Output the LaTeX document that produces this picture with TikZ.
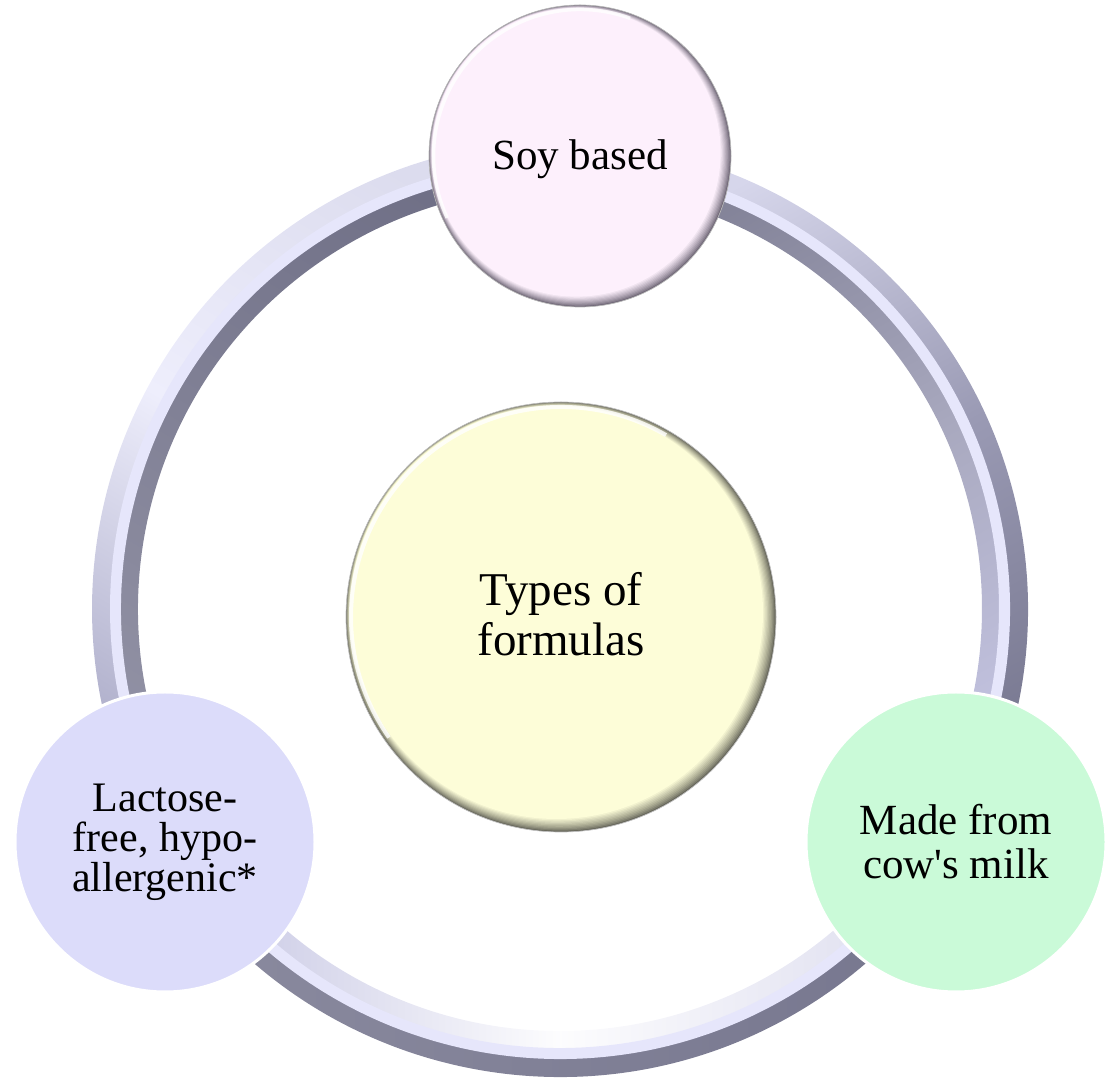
\documentclass[tikz,border=0pt]{standalone}
\usepackage{fontspec}
\setmainfont{Liberation Serif}
\usetikzlibrary{calc}
\definecolor{soyfill}{HTML}{FDF0FC}
\definecolor{soyedge}{HTML}{6E6676}
\definecolor{typfill}{HTML}{FDFDD8}
\definecolor{typedge}{HTML}{66665A}
\definecolor{lactfill}{HTML}{DCDCFA}
\definecolor{cowfill}{HTML}{CAFAD8}
\definecolor{ringmid}{HTML}{E6E6FB}
\definecolor{ringdark}{HTML}{76768E}
\definecolor{ringgray}{HTML}{9A9AB4}
\definecolor{ringlav}{HTML}{C4C4E2}
\definecolor{ringpale}{HTML}{EEEEFC}
\newcommand\ringband[4]{($(O)+(#1:#3)$) arc[start angle=#1, end angle=#2, radius=#3] -- ($(O)+(#2:#4)$) arc[start angle=#2, end angle=#1, radius=#4] -- cycle}
\begin{document}
\begin{tikzpicture}[x=1pt,y=1pt,
  lbl/.style={align=center, text=black, inner sep=0pt},
  flatdisc/.style={circle, draw=white, line width=3pt, minimum size=300pt, inner sep=0pt, align=center},
  outerfont/.style={font=\fontsize{42}{40}\selectfont},
]
\useasboundingbox (0,0) rectangle (1119,1084);
\coordinate (O) at (560,475);
% ---- ring: segment A (top -> left)
\shade[top color=ringlav!60!white, bottom color=ringlav!70!ringdark, middle color=ringpale, shading angle=-31] \ringband{87.5}{210.5}{468}{447};
\shade[top color=ringdark!95!black, bottom color=ringdark!80!white, shading angle=-31] \ringband{87.5}{210.5}{442}{422};
\fill[ringmid] \ringband{87.5}{210.5}{450}{439};
% ---- segment B (left -> right, bottom)
\shade[top color=ringdark!85!white, bottom color=ringdark, shading angle=90] \ringband{210.5}{329.5}{468}{447};
\shade[top color=ringlav, bottom color=ringlav!60!white, middle color=white!96!ringlav, shading angle=90] \ringband{210.5}{329.5}{442}{422};
\fill[ringmid] \ringband{210.5}{329.5}{450}{439};
% ---- segment C (right -> top)
\shade[top color=ringdark, bottom color=ringlav!70!white, middle color=ringgray, shading angle=-151.3] \ringband{329.5}{447.5}{468}{447};
\shade[top color=ringlav, bottom color=ringdark!90!white, middle color=ringgray!85!white, shading angle=-151.3] \ringband{329.5}{447.5}{442}{422};
\fill[ringmid] \ringband{329.5}{447.5}{450}{439};
% ---- top bevel disc
\coordinate (T) at (580,928);
\foreach \k in {0,...,9} {
  \pgfmathsetmacro\p{100*(\k/9)^0.8}
  \fill[soyfill!\p!soyedge] ($(T)+(-0.4*\k,0.4*\k)$) circle[radius=151-0.75*\k];
}
\draw[white, line width=3.5pt, opacity=0.8] ($(T)+(70:146.5)$) arc[start angle=70, end angle=205, radius=146.5];
\draw[black!28, line width=0.7pt] (T) circle[radius=151];
% ---- centre bevel disc
\coordinate (C) at (561,467);
\foreach \k in {0,...,10} {
  \pgfmathsetmacro\p{100*(\k/10)^0.8}
  \fill[typfill!\p!typedge] ($(C)+(-0.45*\k,0.45*\k)$) circle[radius=215-0.85*\k];
}
\draw[white, line width=4pt, opacity=0.8] ($(C)+(60:210)$) arc[start angle=60, end angle=215, radius=210];
\draw[black!25, line width=0.7pt] (C) circle[radius=215];
% ---- flat discs
\node[flatdisc, fill=lactfill, outerfont] (lact) at (165,242) {Lactose-\\free, hypo-\\allergenic*};
\node[flatdisc, fill=cowfill, font=\fontsize{43}{44}\selectfont] (cow) at (956,242) {Made from\\cow\textquotesingle s milk};
% ---- labels
\node[lbl, font=\fontsize{43}{44}\selectfont, anchor=base] (soy) at (580,914) {Soy based};
\node[lbl, font=\fontsize{47}{50}\selectfont] (types) at (561,470) {Types of\\formulas};
\end{tikzpicture}
\end{document}
